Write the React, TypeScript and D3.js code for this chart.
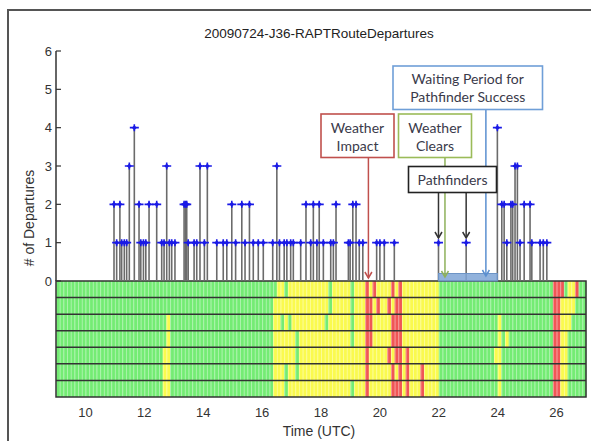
import React, { useEffect, useRef } from 'react';
import * as d3 from 'd3';

const title = '20090724-J36-RAPTRouteDepartures';
const yTicks = [0, 1, 2, 3, 4, 5, 6];
const xTicks = [10, 12, 14, 16, 18, 20, 22, 24, 26];

// departures: time (UTC hours) and count
const departureTimes = [
  10.97, 11.06, 11.17, 11.23, 11.32, 11.4, 11.49, 11.66, 11.82, 11.88, 11.97, 12.05,
  12.16, 12.42, 12.59, 12.67, 12.76, 12.85, 12.93, 13.04, 13.35, 13.4, 13.44, 13.49,
  13.69, 13.78, 13.89, 14.04, 14.14, 14.46, 14.68, 14.8, 14.97, 15.1, 15.31, 15.42,
  15.57, 15.7, 15.87, 16.04, 16.36, 16.5, 16.59, 16.75, 16.84, 16.97, 17.06, 17.31,
  17.49, 17.65, 17.74, 17.86, 17.94, 18.08, 18.33, 18.42, 18.51, 18.93, 18.99, 19.08,
  19.19, 19.3, 19.42, 19.89, 20.0, 20.15, 20.49, 21.99, 22.93, 23.99, 24.14, 24.22,
  24.31, 24.45, 24.51, 24.59, 24.67, 24.76, 24.9, 25.1, 25.16, 25.44, 25.55, 25.67,
];
const departureCounts = [
  2, 1, 2, 1, 1, 1, 3, 4, 2, 1, 1, 1,
  2, 2, 1, 1, 3, 1, 1, 1, 2, 2, 2, 1,
  1, 1, 3, 1, 3, 1, 1, 1, 2, 1, 2, 1,
  2, 1, 1, 1, 1, 3, 1, 1, 1, 1, 1, 1,
  2, 1, 2, 1, 2, 1, 1, 1, 2, 1, 1, 2,
  2, 1, 1, 1, 1, 1, 1, 1, 1, 4, 2, 2,
  1, 2, 2, 3, 3, 1, 2, 2, 1, 1, 1, 1,
];

// sector status, one row per sector: runs [start, end, state] over green
const statusRow0 = [
  [16.5, 22, 'y'], [16.75, 16.875, 'g'], [18.25, 18.375, 'g'], [19, 19.125, 'g'],
  [19.5, 19.625, 'r'], [19.75, 19.875, 'r'], [20.375, 20.5, 'r'], [20.625, 20.75, 'r'],
  [25.875, 26.25, 'r'], [26.375, 26.625, 'y'], [26.625, 26.75, 'r'],
];
const statusRow1 = [
  [16.375, 22, 'y'], [18.25, 18.375, 'g'], [19, 19.125, 'g'], [19.5, 19.75, 'r'],
  [19.875, 20, 'r'], [20.25, 20.375, 'r'], [20.5, 20.75, 'r'],
  [25.875, 26.125, 'r'], [26.125, 26.625, 'y'],
];
const statusRow2 = [
  [12.75, 12.875, 'y'], [16.375, 22, 'y'], [16.625, 16.75, 'g'], [16.875, 17, 'g'],
  [18.125, 18.25, 'g'], [19, 19.125, 'g'], [19.5, 19.75, 'r'], [20.375, 20.75, 'r'],
  [24, 24.125, 'y'], [25.875, 26.125, 'r'], [26.125, 26.5, 'y'],
];
const statusRow3 = [
  [12.75, 12.875, 'y'], [16.375, 22, 'y'], [17.125, 17.25, 'g'], [19, 19.125, 'g'],
  [19.5, 19.75, 'r'], [20.375, 20.75, 'r'], [24, 24.375, 'y'], [24.125, 24.25, 'g'],
  [25.875, 26.125, 'r'], [26.125, 26.375, 'y'],
];
const statusRow4 = [
  [12.625, 12.875, 'y'], [16.375, 22, 'y'], [17.125, 17.25, 'g'], [19.5, 19.625, 'r'],
  [20.25, 20.375, 'r'], [20.5, 20.75, 'r'], [20.875, 21, 'r'], [23.875, 24.125, 'y'],
  [25.875, 26.125, 'r'], [26.125, 26.375, 'y'],
];
const statusRow5 = [
  [12.625, 12.875, 'y'], [16.375, 22, 'y'], [16.75, 16.875, 'g'], [17.125, 17.25, 'g'],
  [19.5, 19.625, 'r'], [20.375, 20.5, 'r'], [20.625, 20.75, 'r'], [20.875, 21, 'r'],
  [21.375, 21.5, 'r'], [24, 24.125, 'y'], [25.875, 26.125, 'r'], [26.125, 26.375, 'y'],
];
const statusRow6 = [
  [12.625, 12.875, 'y'], [16.375, 22, 'y'], [16.75, 16.875, 'g'], [19, 19.125, 'g'],
  [19.5, 19.625, 'r'], [20.375, 20.75, 'r'], [20.875, 21, 'r'], [21.375, 21.5, 'r'],
  [24, 24.125, 'y'], [25.875, 26.125, 'r'], [26.125, 26.375, 'y'],
];
const statusRows = [statusRow0, statusRow1, statusRow2, statusRow3, statusRow4, statusRow5, statusRow6];
const statusColors = { g: '#74ec74', y: '#fafa4e', r: '#f05656' };

// waiting period between pathfinder and the next departure
const waitingPeriod = [21.99, 23.99];

const App = () => {
  const svgRef = useRef(null);

  useEffect(() => {
    const svg = d3.select(svgRef.current);
    const width = 591;
    const height = 441;
    svg.selectAll('*').remove();
    svg.attr('width', width).attr('height', height);

    const x = d3.scaleLinear().domain([9, 27]).range([56, 586]);
    const y = d3.scaleLinear().domain([0, 6]).range([281, 51]);
    const rowY = d3.scaleBand().domain(d3.range(7)).range([281, 397]);
    const step = 0.125;
    const columns = d3.range(9, 27, step);

    // outer frame
    svg.append('rect').attr('x', 8).attr('y', 10).attr('width', 640).attr('height', 500)
      .attr('fill', 'white').attr('stroke', '#555').attr('stroke-width', 2);

    svg.append('text').attr('x', 319).attr('y', 38).attr('text-anchor', 'middle')
      .attr('font-family', 'Liberation Sans, Arial, sans-serif').attr('font-size', 13.5)
      .attr('fill', '#222').text(title);

    // heatmap of sector status
    const heat = svg.append('g');
    statusRows.forEach((runs, r) => {
      columns.forEach((t) => {
        const c = t + step / 2;
        let state = 'g';
        runs.forEach(([s, e, st]) => { if (c >= s && c < e) state = st; });
        heat.append('rect')
          .attr('x', x(t)).attr('y', rowY(r))
          .attr('width', x(t + step) - x(t) + 0.3).attr('height', rowY.bandwidth())
          .attr('fill', statusColors[state]);
      });
    });
    columns.forEach((t) => {
      heat.append('line').attr('x1', x(t) + 0.5).attr('x2', x(t) + 0.5)
        .attr('y1', 281).attr('y2', 397)
        .attr('stroke', 'white').attr('stroke-opacity', 0.4).attr('stroke-width', 1);
    });
    d3.range(1, 7).forEach((r) => {
      heat.append('line').attr('x1', x(9)).attr('x2', x(27))
        .attr('y1', rowY(r)).attr('y2', rowY(r))
        .attr('stroke', '#333').attr('stroke-width', 1.5);
    });
    heat.append('rect').attr('x', x(9)).attr('y', 281).attr('width', x(27) - x(9)).attr('height', 116)
      .attr('fill', 'none').attr('stroke', '#333').attr('stroke-width', 1.5);

    // y axis
    svg.append('line').attr('x1', 56).attr('x2', 56).attr('y1', y(6)).attr('y2', y(0))
      .attr('stroke', '#333').attr('stroke-width', 1.5);
    yTicks.forEach((t) => {
      svg.append('line').attr('x1', 56).attr('x2', 61).attr('y1', y(t)).attr('y2', y(t))
        .attr('stroke', '#333').attr('stroke-width', 1.2);
      svg.append('text').attr('x', 52).attr('y', y(t) + 4.5).attr('text-anchor', 'end')
        .attr('font-family', 'Liberation Sans, Arial, sans-serif').attr('font-size', 13)
        .attr('fill', '#333').text(t);
    });
    xTicks.forEach((t) => {
      svg.append('text').attr('x', x(t)).attr('y', 417).attr('text-anchor', 'middle')
        .attr('font-family', 'Liberation Sans, Arial, sans-serif').attr('font-size', 13)
        .attr('fill', '#333').text(t);
    });
    svg.append('text').attr('x', 319).attr('y', 436).attr('text-anchor', 'middle')
      .attr('font-family', 'Liberation Sans, Arial, sans-serif').attr('font-size', 14)
      .attr('fill', '#333').text('Time (UTC)');
    svg.append('text').attr('transform', 'translate(34,218) rotate(-90)').attr('text-anchor', 'middle')
      .attr('font-family', 'Liberation Sans, Arial, sans-serif').attr('font-size', 14)
      .attr('fill', '#333').text('# of Departures');

    // stems
    const stems = svg.append('g');
    departureTimes.forEach((t, i) => {
      stems.append('line').attr('x1', x(t)).attr('x2', x(t)).attr('y1', y(0)).attr('y2', y(departureCounts[i]))
        .attr('stroke', '#6b6b6b').attr('stroke-width', 1.6);
    });
    departureTimes.forEach((t, i) => {
      const cx = x(t);
      const cy = y(departureCounts[i]);
      stems.append('path').attr('d', `M${cx - 4.5},${cy}H${cx + 4.5}M${cx},${cy - 3.5}V${cy + 3.5}`)
        .attr('stroke', '#1a1ae6').attr('stroke-width', 1.6);
      stems.append('path').attr('d', `M${cx - 2.5},${cy}L${cx},${cy - 2.5}L${cx + 2.5},${cy}L${cx},${cy + 2.5}Z`)
        .attr('fill', '#1a1ae6');
    });

    // waiting period bar
    svg.append('rect').attr('x', x(waitingPeriod[0])).attr('y', 273.5)
      .attr('width', x(waitingPeriod[1]) - x(waitingPeriod[0])).attr('height', 7.5)
      .attr('fill', '#7ea5d6').attr('fill-opacity', 0.85).attr('stroke', '#6d94c6');

    // annotations
    const arrow = (ax, y0, y1, color) => {
      svg.append('line').attr('x1', ax).attr('x2', ax).attr('y1', y0).attr('y2', y1)
        .attr('stroke', color).attr('stroke-width', 1.5);
      svg.append('path').attr('d', `M${ax - 3.5},${y1 - 6}L${ax},${y1}L${ax + 3.5},${y1 - 6}`)
        .attr('fill', 'none').attr('stroke', color).attr('stroke-width', 1.5);
    };
    arrow(x(19.61), 157, 278, '#c0504d');
    arrow(x(22.21), 157, 277, '#8eb15a');
    arrow(x(23.6), 109, 276, '#5b8fd0');
    arrow(x(departureTimes[67]), 192, 238, '#333');
    arrow(x(departureTimes[68]), 192, 238, '#333');

    const boxes = [
      { x0: 393, x1: 542.5, y0: 66, y1: 109.5, color: '#6f9fd8', lines: ['Waiting Period for', 'Pathfinder Success'], base: 84 },
      { x0: 321, x1: 394, y0: 114, y1: 157.5, color: '#c0504d', lines: ['Weather', 'Impact'], base: 133 },
      { x0: 398.5, x1: 471.5, y0: 114, y1: 157.5, color: '#9bbb59', lines: ['Weather', 'Clears'], base: 133 },
      { x0: 408.5, x1: 496.5, y0: 166.5, y1: 192.5, color: '#222', lines: ['Pathfinders'], base: 185 },
    ];
    boxes.forEach((b) => {
      svg.append('rect').attr('x', b.x0).attr('y', b.y0).attr('width', b.x1 - b.x0).attr('height', b.y1 - b.y0)
        .attr('fill', 'white').attr('stroke', b.color).attr('stroke-width', 1.6);
      b.lines.forEach((l, i) => {
        svg.append('text').attr('x', (b.x0 + b.x1) / 2).attr('y', b.base + i * 17.5)
          .attr('text-anchor', 'middle').attr('font-family', 'Lato, sans-serif').attr('font-size', 14)
          .attr('fill', '#3a3a4a').text(l);
      });
    });
  }, []);

  return (
    <svg ref={svgRef} style={{ position: 'absolute', left: 0, top: 0 }} />
  );
};

export default App;
